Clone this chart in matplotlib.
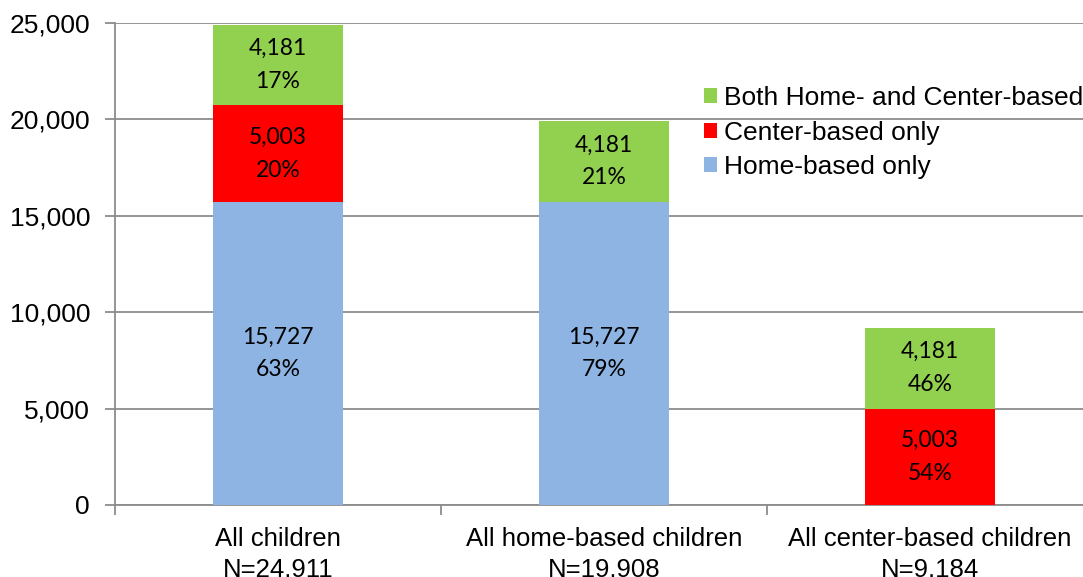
import matplotlib as mpl
mpl.use('Agg')

import matplotlib.pyplot as plt
import numpy as np

categories = ["All children\nN=24.911", "All home-based children\nN=19.908", "All center-based children\nN=9.184"]
home_only = [15727, 15727, 0]
center_only = [5003, 0, 5003]
both = [4181, 4181, 4181]
series_names = ["Home-based only", "Center-based only", "Both Home- and Center-based"]
series_colors = ["#8DB4E2", "#FF0000", "#92D050"]
y_ticks = [0, 5000, 10000, 15000, 20000, 25000]

sans = ['Liberation Sans', 'DejaVu Sans']
label_font = ['Lato', 'DejaVu Sans']

fig = plt.figure(figsize=(10.83, 5.77), dpi=100)
ax = fig.add_axes([115 / 1083, 1 - 505 / 577, 978 / 1083, (505 - 23) / 577])

x = np.arange(len(categories))
series = [home_only, center_only, both]
totals = np.sum(series, axis=0)
bottom = np.zeros(len(categories))
bars = []
for vals, name, col in zip(series, series_names, series_colors):
    b = ax.bar(x, vals, width=0.4, bottom=bottom, color=col, label=name, zorder=3)
    bars.append(b)
    for xi, v, bt, tot in zip(x, vals, bottom, totals):
        if v > 0:
            ax.text(xi, bt + v / 2, f"{v:,}\n{round(v / tot * 100):.0f}%", ha='center', va='center',
                    fontsize=16.5, family=label_font, linespacing=1.7, zorder=4)
    bottom = bottom + np.array(vals)

ax.set_xlim(-0.5, 2.5)
ax.set_ylim(0, 25000)
ax.set_yticks(y_ticks)
ax.set_yticklabels([f"{t:,}" for t in y_ticks], family=sans, fontsize=19)
ax.yaxis.grid(True, color='#8C8C8C', linewidth=1.3, zorder=0)
ax.tick_params(axis='y', length=7, width=1.3, color='#8C8C8C', pad=11)

ax.set_xticks(x)
ax.set_xticklabels(categories, family=sans, fontsize=18.5, linespacing=1.35)
ax.set_xticks([-0.5, 0.5, 1.5, 2.5], minor=True)
ax.tick_params(axis='x', which='major', length=0, pad=16)
ax.tick_params(axis='x', which='minor', length=7, width=1.3, color='#8C8C8C')

for s in ['top', 'right']:
    ax.spines[s].set_visible(False)
for s in ['left', 'bottom']:
    ax.spines[s].set_color('#8C8C8C')
    ax.spines[s].set_linewidth(1.3)

handles = [bars[2], bars[1], bars[0]]
leg = ax.legend(handles, [series_names[2], series_names[1], series_names[0]],
                loc='upper left', bbox_to_anchor=(704 / 1083, 1 - 86 / 577),
                bbox_transform=fig.transFigure, frameon=False, borderpad=0, borderaxespad=0,
                handlelength=0.5, handleheight=0.5, handletextpad=0.25, labelspacing=0.4,
                prop={'family': sans, 'size': 19})

fig.savefig('out.png', dpi=100)
